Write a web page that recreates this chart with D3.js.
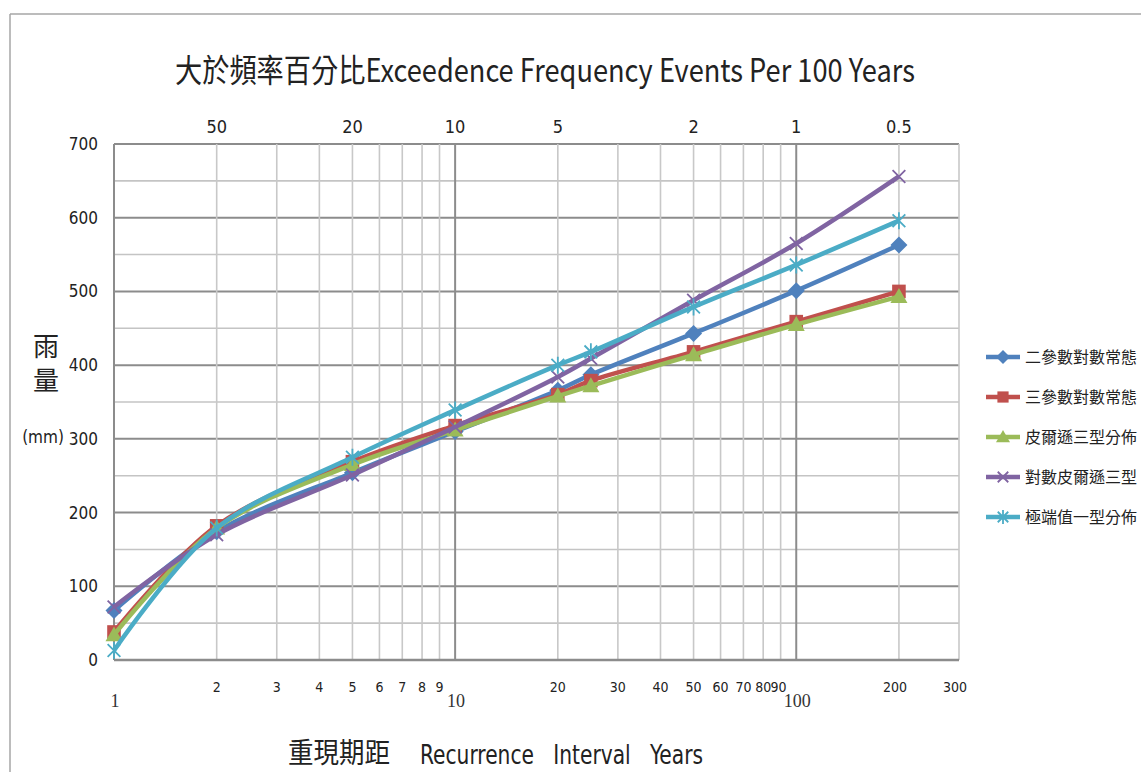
<!DOCTYPE html>
<html><head><meta charset="utf-8">
<script src="https://cdn.jsdelivr.net/npm/d3@7"></script>
<style>body{margin:0;background:#fff;}svg{display:block;}</style>
</head><body>
<svg id="c" width="1141" height="772"></svg>
<script>
const years = [1, 2, 5, 10, 20, 25, 50, 100, 200];
const seriesNames = ["二參數對數常態", "三參數對數常態", "皮爾遜三型分佈", "對數皮爾遜三型", "極端值一型分佈"];
const lognormal2 = [67, 174, 254, 310, 366, 387, 443, 501, 563];
const lognormal3 = [38, 182, 269, 318, 360, 379, 418, 459, 500];
const pearson3   = [34, 179, 265, 312, 358, 372, 414, 455, 493];
const logPearson3= [72, 170, 251, 316, 384, 409, 488, 565, 656];
const gumbel     = [13, 179, 275, 339, 400, 418, 479, 536, 596];
const colors = ["#4F81BD", "#C0504D", "#9BBB59", "#8064A2", "#4BACC6"];
const markers = ["diamond", "square", "triangle", "x", "star"];
const gridX = [1,2,3,4,5,6,7,8,9,10,20,30,40,50,60,70,80,90,100,200,300];
const bottomSans = [2,3,4,5,6,7,8,9,20,30,40,50,60,70,80,90,200,300];
const bottomSerif = [1,10,100];
const topTicks = [2,5,10,20,50,100,200];
const yTicks = [0,100,200,300,400,500,600,700];
const yGrid = d3.range(0, 701, 50);

const allSeries = [lognormal2, lognormal3, pearson3, logPearson3, gumbel];
const svg = d3.select("#c");
const x = d3.scaleLog().domain([1, 300]).range([114, 959]);
const y = d3.scaleLinear().domain([0, 700]).range([660, 144]);
const sans = "'Liberation Sans Narrow','DejaVu Sans Condensed','Open Sans',sans-serif";
const cjk = "'Noto Sans CJK TC','Noto Sans CJK SC',sans-serif";

// frame
svg.append("line").attr("x1",10).attr("x2",1141).attr("y1",14).attr("y2",14).attr("stroke","#a6a6a6").attr("stroke-width",1.5);
svg.append("line").attr("x1",10).attr("x2",10).attr("y1",14).attr("y2",772).attr("stroke","#a6a6a6").attr("stroke-width",1.5);

// grid
const g = svg.append("g");
g.selectAll(".hg").data(yGrid).join("line")
  .attr("x1", x(1)).attr("x2", x(300)).attr("y1", d=>y(d)).attr("y2", d=>y(d))
  .attr("stroke", d => d%100===0 ? "#8c8c8c" : "#c4c4c4").attr("stroke-width", d=>d%100===0?2:1.6);
g.selectAll(".vg").data(gridX).join("line")
  .attr("x1", d=>x(d)).attr("x2", d=>x(d)).attr("y1", y(700)).attr("y2", y(0))
  .attr("stroke", d => (d===1||d===10||d===100) ? "#8c8c8c" : "#c8c8c8").attr("stroke-width", d=>(d===1||d===10||d===100)?2:1.6);
g.append("line").attr("x1",x(1)).attr("x2",x(300)).attr("y1",y(0)).attr("y2",y(0)).attr("stroke","#8c8c8c").attr("stroke-width",2.5);

// y labels
svg.selectAll(".yl").data(yTicks).join("text")
  .attr("x", 98).attr("y", d=>y(d)+6).attr("text-anchor","end")
  .attr("font-family", sans).attr("font-size", 17).attr("fill","#222").text(d=>d);

// top labels
svg.selectAll(".tl").data(topTicks).join("text")
  .attr("x", d=>x(d)).attr("y", 133).attr("text-anchor","middle")
  .attr("font-family", sans).attr("font-size", 18).attr("fill","#222").text(d=>d3.format("")(100/d));

// bottom labels
svg.selectAll(".bl").data(bottomSans).join("text")
  .attr("x", d=>x(d) - (d>=200?4:(d===90?2:0))).attr("y", 692).attr("text-anchor","middle")
  .attr("font-family", sans).attr("font-size", 14).attr("fill","#222").text(d=>d);
svg.selectAll(".bs").data(bottomSerif).join("text")
  .attr("x", d=>x(d)+1).attr("y", 707).attr("text-anchor","middle")
  .attr("font-family", "'Liberation Serif',serif").attr("font-size", 18).attr("fill","#333").text(d=>d);

// title
svg.append("text").attr("x", 175).attr("y", 82).attr("textLength", 740).attr("lengthAdjust","spacingAndGlyphs")
  .attr("font-family", cjk).attr("font-size", 32).attr("fill","#222")
  .text("大於頻率百分比Exceedence Frequency Events Per 100 Years");

// axis titles
svg.append("text").attr("x", 46).attr("y", 356).attr("text-anchor","middle").attr("font-family", cjk).attr("font-size", 26).attr("fill","#222").text("雨");
svg.append("text").attr("x", 46).attr("y", 390).attr("text-anchor","middle").attr("font-family", cjk).attr("font-size", 26).attr("fill","#222").text("量");
svg.append("text").attr("x", 43).attr("y", 443).attr("text-anchor","middle").attr("font-family", sans).attr("font-size", 17).attr("fill","#222").text("(mm)");
svg.append("text").attr("x", 288).attr("y", 763).attr("textLength", 102).attr("lengthAdjust","spacingAndGlyphs")
  .attr("font-family", cjk).attr("font-size", 28).attr("fill","#222").text("重現期距");
svg.append("text").attr("x", 420).attr("y", 764).attr("textLength", 283).attr("lengthAdjust","spacingAndGlyphs")
  .attr("font-family", sans).attr("font-size", 26).attr("fill","#222").style("white-space","pre").text("Recurrence   Interval   Years");

// marker drawing
function drawMarker(sel, type, color, s) {
  if (type === "diamond") {
    sel.append("path").attr("d", `M0,${-s}L${s},0L0,${s}L${-s},0Z`).attr("fill", color);
  } else if (type === "square") {
    sel.append("rect").attr("x", -s*0.8).attr("y", -s*0.8).attr("width", s*1.6).attr("height", s*1.6).attr("fill", color);
  } else if (type === "triangle") {
    sel.append("path").attr("d", `M0,${-s}L${s},${s*0.75}L${-s},${s*0.75}Z`).attr("fill", color);
  } else if (type === "x") {
    sel.append("path").attr("d", `M${-s*0.75},${-s*0.75}L${s*0.75},${s*0.75}M${-s*0.75},${s*0.75}L${s*0.75},${-s*0.75}`).attr("stroke", color).attr("stroke-width", 1.8);
  } else {
    sel.append("path").attr("d", `M${-s*0.75},${-s*0.75}L${s*0.75},${s*0.75}M${-s*0.75},${s*0.75}L${s*0.75},${-s*0.75}M0,${-s}L0,${s}`).attr("stroke", color).attr("stroke-width", 1.8);
  }
}

// lines
const line = d3.line().x(d=>x(d[0])).y(d=>y(d[1])).curve(d3.curveCatmullRom.alpha(0.5));
allSeries.forEach((vals, i) => {
  const pts = years.map((yr, j) => [yr, vals[j]]);
  svg.append("path").datum(pts).attr("d", line).attr("fill","none")
    .attr("stroke", colors[i]).attr("stroke-width", 4.5).attr("stroke-linejoin","round");
  pts.forEach(p => {
    const m = svg.append("g").attr("transform", `translate(${x(p[0])},${y(p[1])})`);
    drawMarker(m, markers[i], colors[i], 8.5);
  });
});

// legend
const leg = svg.append("g");
seriesNames.forEach((name, i) => {
  const ly = 357 + i*40;
  leg.append("line").attr("x1", 986).attr("x2", 1020).attr("y1", ly).attr("y2", ly).attr("stroke", colors[i]).attr("stroke-width", 4.5);
  const m = leg.append("g").attr("transform", `translate(1003,${ly})`);
  drawMarker(m, markers[i], colors[i], 7);
  leg.append("text").attr("x", 1025).attr("y", ly+6).attr("font-family", cjk).attr("font-size", 16).attr("fill","#222").text(name);
});
</script>
</body></html>
